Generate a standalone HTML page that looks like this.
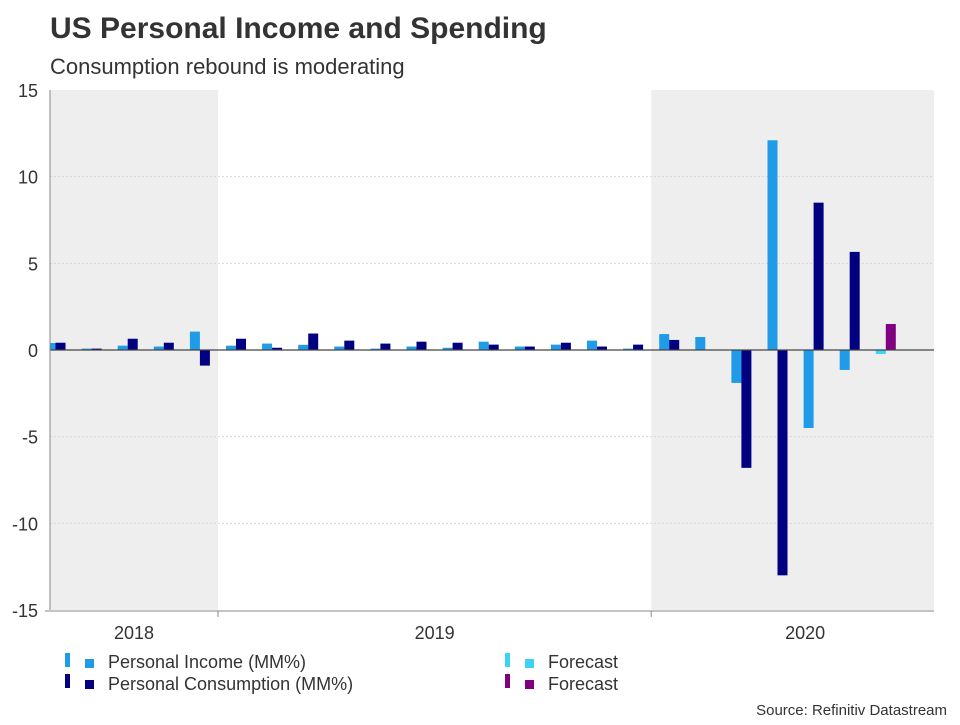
<!DOCTYPE html>
<html><head><meta charset="utf-8"><style>
body{margin:0;background:#fff;width:960px;height:720px;overflow:hidden;font-family:"Liberation Sans",Arial,sans-serif}
</style></head><body>
<svg id="chart" width="960" height="720" xmlns="http://www.w3.org/2000/svg">
<text x="50" y="38" font-size="30" font-weight="bold" fill="#333">US Personal Income and Spending</text>
<text x="50" y="74" font-size="22" fill="#333">Consumption rebound is moderating</text>
<g id="plot"></g>
<g font-size="18" fill="#333">
<g><rect x="65" y="653" width="5" height="14" fill="#1f9be8"/><rect x="85" y="659" width="9" height="9" fill="#1f9be8"/><text x="108" y="668">Personal Income (MM%)</text></g>
<g><rect x="65" y="674" width="5" height="14" fill="#000080"/><rect x="85" y="680" width="9" height="9" fill="#000080"/><text x="108" y="690">Personal Consumption (MM%)</text></g>
<g><rect x="505" y="653" width="5" height="14" fill="#3dd3f8"/><rect x="525" y="659" width="9" height="9" fill="#3dd3f8"/><text x="548" y="668">Forecast</text></g>
<g><rect x="505" y="674" width="5" height="14" fill="#800080"/><rect x="525" y="680" width="9" height="9" fill="#800080"/><text x="548" y="690">Forecast</text></g>
</g>
<text x="947" y="715" font-size="15" fill="#333" text-anchor="end">Source: Refinitiv Datastream</text>
</svg>
<script>
const months = ["2018-08","2018-09","2018-10","2018-11","2018-12","2019-01","2019-02","2019-03","2019-04","2019-05","2019-06","2019-07","2019-08","2019-09","2019-10","2019-11","2019-12","2020-01","2020-02","2020-03","2020-04","2020-05","2020-06","2020-07"];
const income = [0.4,0.08,0.25,0.2,1.06,0.25,0.37,0.3,0.2,0.08,0.2,0.13,0.48,0.2,0.31,0.54,0.08,0.92,0.75,-1.9,12.1,-4.5,-1.15,-0.23];
const consumption = [0.42,0.08,0.65,0.42,-0.9,0.65,0.13,0.95,0.54,0.37,0.48,0.42,0.31,0.2,0.42,0.2,0.31,0.58,0.02,-6.8,-13.0,8.5,5.66,1.5];
const forecastFrom = 23;
const yTicks = [15,10,5,0,-5,-10,-15];
const years = ["2018","2019","2020"];
const yearStartIdx = [0,5,17];

const NS="http://www.w3.org/2000/svg";
const plot=document.getElementById('plot');
const L=50,R=934,T=90,B=610;
const slot=36.1, x0=218-5*slot;
const y=v=>T+(15-v)/30*(B-T);
const xs=i=>x0+i*slot;
function mk(tag,attrs){const e=document.createElementNS(NS,tag);for(const k in attrs)e.setAttribute(k,attrs[k]);plot.appendChild(e);return e;}
// shaded regions
let s=mk('rect',{x:L,y:T,width:218-L,height:B-T,fill:'#eeeeee'});


s=mk('rect',{x:xs(17),y:T,width:R-xs(17),height:B-T,fill:'#eeeeee'});


// grid + ticks
yTicks.forEach(v=>{
  if(v!==0&&v!==-15&&v!==15){const g=mk('line',{x1:L,x2:R,y1:y(v),y2:y(v),stroke:'#d8d8d8','stroke-dasharray':'2,2'});
  
  }
  const t=mk('text',{x:38,y:y(v)+7,'font-size':18,fill:'#333','text-anchor':'end'});t.textContent=v;
  
  
});
// bars
const clipId='pc';const cp=document.createElementNS(NS,'clipPath');cp.id=clipId;const cr=document.createElementNS(NS,'rect');cr.setAttribute('x',L);cr.setAttribute('y',T);cr.setAttribute('width',R-L);cr.setAttribute('height',B-T);cp.appendChild(cr);plot.appendChild(cp);
months.forEach((m,i)=>{
  const f=i>=forecastFrom;
  [[income[i],8,f?'#3dd3f8':'#1f9be8','income'],[consumption[i],18,f?'#800080':'#000080','consumption']].forEach(([v,o,c,n])=>{
    const r=mk('rect',{x:xs(i)+o,y:Math.min(y(v),y(0)),width:10,height:Math.abs(y(v)-y(0)),fill:c,'clip-path':'url(#pc)'});
    
    
  });
});
let z=mk('line',{x1:L,x2:R,y1:y(0),y2:y(0),stroke:'#444','stroke-width':1.3});


let ax=mk('line',{x1:L,x2:L,y1:T,y2:B,stroke:'#888'});


ax=mk('line',{x1:L-5,x2:R,y1:B+1,y2:B+1,stroke:'#888'});


const yStarts=yearStartIdx.map(xs);
[yStarts[1],yStarts[2]].forEach(xx=>{const t=mk('line',{x1:xx,x2:xx,y1:B+1,y2:B+7,stroke:'#888'});
  
  });
years.forEach((yr,k)=>{
  const a=Math.max(yStarts[k],L), b=k<2?yStarts[k+1]:R+25;
  const t=mk('text',{x:(a+b)/2,y:639,'font-size':18,fill:'#333','text-anchor':'middle'});t.textContent=yr;
  
  
});
</script>
</body></html>
